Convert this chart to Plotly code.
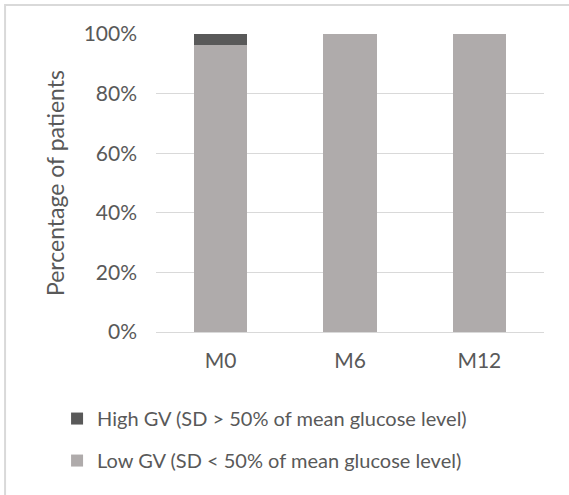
import plotly.graph_objects as go

categories = ["M0", "M6", "M12"]
low_gv = [96.3, 100, 100]
high_gv = [3.7, 0, 0]
tick_vals = [0, 20, 40, 60, 80, 100]
tick_text = ["0%", "20%", "40%", "60%", "80%", "100%"]

font_family = "Lato, 'Open Sans', sans-serif"
text_color = "#595959"

fig = go.Figure()
fig.add_trace(go.Bar(
    x=categories, y=low_gv, name="Low GV (SD < 50% of mean glucose level)",
    marker=dict(color="#afabab", line=dict(width=0)), legendrank=2, legendgroup="b",
))
fig.add_trace(go.Bar(
    x=categories, y=high_gv, name="High GV (SD > 50% of mean glucose level)",
    marker=dict(color="#595959", line=dict(width=0)), legendrank=1, legendgroup="a",
))

fig.update_layout(
    width=569, height=495,
    barmode="stack", bargap=0.59,
    plot_bgcolor="white", paper_bgcolor="white",
    margin=dict(l=156, r=25, t=34, b=163, autoexpand=False),
    font=dict(family=font_family, color=text_color, size=20),
    legend=dict(
        x=-0.255, y=-0.225, xanchor="left", yanchor="top",
        traceorder="grouped", tracegroupgap=13,
        font=dict(size=20, color=text_color),
        bgcolor="rgba(0,0,0,0)",
    ),
    xaxis=dict(
        showgrid=False, showline=True, linecolor="#d9d9d9", linewidth=1,
        ticks="", ticklabelstandoff=10,
        tickfont=dict(size=21, color=text_color),
    ),
    yaxis=dict(
        range=[0, 100], tickvals=tick_vals, ticktext=tick_text,
        showgrid=True, gridcolor="#d9d9d9", gridwidth=1,
        zeroline=False, showline=False, ticks="",
        ticklabelstandoff=18,
        tickfont=dict(size=21, color=text_color),
        title=dict(text="Percentage of patients", font=dict(size=23, color=text_color), standoff=12),
    ),
    shapes=[dict(
        type="rect", xref="paper", yref="paper",
        x0=-0.389, x1=1.3, y0=-1.0, y1=1.097,
        line=dict(color="#d9d9d9", width=2), layer="below",
    )],
)

fig.write_html(
    "out.html",
    config={"displayModeBar": False},
    post_script="document.body.style.margin='0px';",
)
